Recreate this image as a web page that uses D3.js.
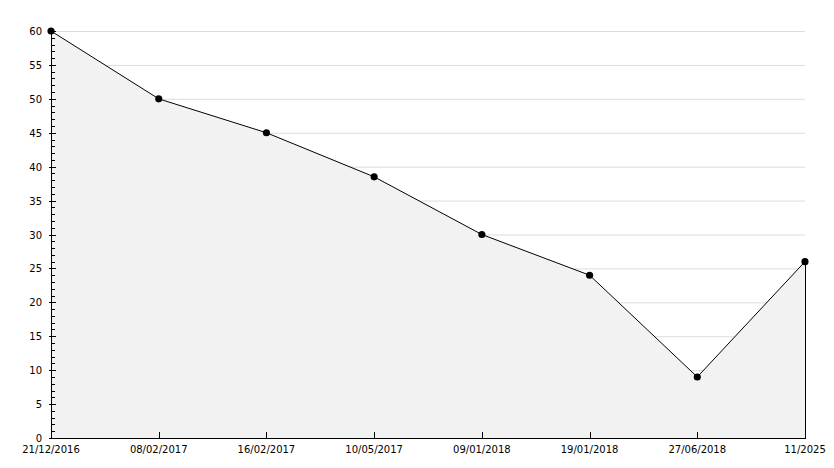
<!DOCTYPE html>
<html><head><meta charset="utf-8">
<script src="https://cdn.jsdelivr.net/npm/d3@7"></script>
<style>body{margin:0;background:#fff}svg{display:block}text{font-family:"DejaVu Sans",sans-serif;font-size:10px;fill:#000}</style>
</head><body><svg id="c" width="834" height="468"></svg>
<script>
const categories = ["21/12/2016","08/02/2017","16/02/2017","10/05/2017","09/01/2018","19/01/2018","27/06/2018","11/2025"];
const values = [60, 50, 45, 38.5, 30, 24, 9, 26];
const yMajorTicks = [0,5,10,15,20,25,30,35,40,45,50,55,60];

const svg = d3.select("#c");
const L = 51, R = 805, T = 31, B = 438;
const x = d3.scalePoint().domain(categories).range([L, R]);
const y = d3.scaleLinear().domain([0, 60]).range([B, T]);

// gridlines
svg.append("g").selectAll("line").data(yMajorTicks.filter(d=>d>0)).join("line")
  .attr("x1", L).attr("x2", R).attr("y1", d=>y(d)+0.5).attr("y2", d=>y(d)+0.5)
  .attr("stroke", "#dcdcdc").attr("stroke-width", 1);

// area
const pts = categories.map((c,i)=>[x(c), y(values[i])]);
const area = d3.area().x(d=>d[0]).y0(B).y1(d=>d[1]);
svg.append("path").attr("d", area(pts)).attr("fill", "#f2f2f2");
// right edge
svg.append("line").attr("x1", R+0.5).attr("x2", R+0.5).attr("y1", y(values[values.length-1])).attr("y2", B)
  .attr("stroke", "#000");
// line
svg.append("path").attr("d", d3.line()(pts)).attr("fill","none").attr("stroke","#000").attr("stroke-width",1);

// y axis
const yAxis = svg.append("g");
yAxis.append("line").attr("x1", L+0.5).attr("x2", L+0.5).attr("y1", T).attr("y2", B).attr("stroke","#000");
const minor = d3.range(0, 61, 1);
yAxis.selectAll("line.mn").data(minor).join("line").attr("class","mn")
  .attr("x1", L).attr("x2", d=> d%5===0 ? L-1 : L+4)
  .attr("y1", d=>Math.round(y(d))+0.5).attr("y2", d=>Math.round(y(d))+0.5).attr("stroke","#000");
yAxis.selectAll("line.mj").data(yMajorTicks).join("line").attr("class","mj")
  .attr("x1", L-2).attr("x2", L+5)
  .attr("y1", d=>Math.round(y(d))+0.5).attr("y2", d=>Math.round(y(d))+0.5).attr("stroke","#000");
yAxis.selectAll("text").data(yMajorTicks).join("text")
  .attr("x", 42).attr("y", d=>y(d)+4).attr("text-anchor","end").text(d=>d);

// x axis
const xAxis = svg.append("g");
xAxis.append("line").attr("x1", L).attr("x2", R+1).attr("y1", B+0.5).attr("y2", B+0.5).attr("stroke","#000");
xAxis.selectAll("line.t").data(categories.slice(1,-1)).join("line").attr("class","t")
  .attr("x1", d=>Math.round(x(d))+0.5).attr("x2", d=>Math.round(x(d))+0.5).attr("y1", B-6).attr("y2", B).attr("stroke","#000");
xAxis.selectAll("text").data(categories).join("text")
  .attr("x", d=>x(d)).attr("y", B+15).attr("text-anchor","middle").text(d=>d);

// markers
svg.append("g").selectAll("path").data(pts).join("path")
  .attr("transform", d=>`translate(${d[0]},${d[1]})`)
  .attr("d", d3.symbol().type(d3.symbolCircle).size(40)).attr("fill","#000");
</script></body></html>
